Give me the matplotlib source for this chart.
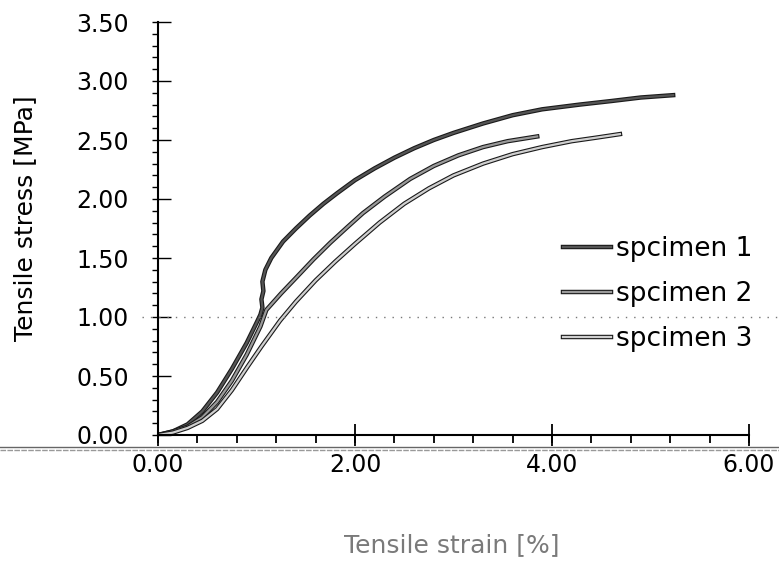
import matplotlib
matplotlib.use("Agg")
import matplotlib.pyplot as plt
import matplotlib.patheffects as pe
from matplotlib.lines import Line2D
from matplotlib.ticker import MultipleLocator, FixedLocator

# specimen curves (strain %, stress MPa)
x1 = [0.00, 0.15, 0.30, 0.45, 0.60, 0.75, 0.90, 1.00, 1.04, 1.06, 1.05, 1.07, 1.06, 1.09, 1.15,
      1.27, 1.40, 1.54, 1.68, 1.82, 2.00, 2.20, 2.40, 2.60, 2.80, 3.00, 3.30, 3.60, 3.90, 4.28,
      4.60, 4.90, 5.23]
y1 = [0.00, 0.03, 0.09, 0.20, 0.36, 0.56, 0.78, 0.95, 1.02, 1.08, 1.15, 1.22, 1.30, 1.40, 1.50,
      1.64, 1.75, 1.86, 1.96, 2.05, 2.16, 2.26, 2.35, 2.43, 2.50, 2.56, 2.64, 2.71, 2.76, 2.80,
      2.83, 2.86, 2.88]

x2 = [0.00, 0.15, 0.30, 0.45, 0.60, 0.75, 0.90, 1.04, 1.10, 1.25, 1.41, 1.58, 1.75, 1.92, 2.08,
      2.30, 2.56, 2.80, 3.05, 3.30, 3.55, 3.85]
y2 = [0.00, 0.03, 0.07, 0.15, 0.28, 0.46, 0.68, 0.92, 1.06, 1.20, 1.34, 1.49, 1.63, 1.76, 1.88,
      2.02, 2.17, 2.28, 2.37, 2.44, 2.49, 2.53]

x3 = [0.00, 0.15, 0.30, 0.45, 0.60, 0.75, 0.91, 1.05, 1.24, 1.40, 1.60, 1.80, 2.00, 2.25, 2.50,
      2.75, 3.00, 3.30, 3.60, 3.90, 4.20, 4.45, 4.69]
y3 = [0.00, 0.02, 0.06, 0.12, 0.22, 0.38, 0.58, 0.75, 0.97, 1.13, 1.31, 1.47, 1.62, 1.80, 1.96,
      2.09, 2.20, 2.30, 2.38, 2.44, 2.49, 2.52, 2.55]

labels = ["spcimen 1", "spcimen 2", "spcimen 3"]
x_ticks = [0.0, 2.0, 4.0, 6.0]
y_ticks = [0.0, 0.5, 1.0, 1.5, 2.0, 2.5, 3.0, 3.5]

W, H = 779, 565
fig = plt.figure(figsize=(W / 100, H / 100), dpi=100)
ax = fig.add_axes([158 / W, 1 - 435 / H, (749 - 158) / W, (435 - 22) / H])

outline = [pe.Stroke(linewidth=3.2, foreground="#1a1a1a"), pe.Normal()]
ax.plot(x1, y1, color="#555555", lw=1.6, path_effects=outline, label=labels[0])
ax.plot(x2, y2, color="#9a9a9a", lw=1.6, path_effects=outline, label=labels[1])
ax.plot(x3, y3, color="#cfcfcf", lw=1.6, path_effects=outline, label=labels[2])

ax.axhline(1.0, xmin=-0.027, xmax=1.06, clip_on=False, color="#777777",
           lw=1.0, linestyle=(0, (1, 5)))

ax.set_xlim(0, 6.0)
ax.set_ylim(0, 3.5)
for s in ["top", "right"]:
    ax.spines[s].set_visible(False)
for s in ["left", "bottom"]:
    ax.spines[s].set_linewidth(1.5)

ax.xaxis.set_major_locator(FixedLocator(x_ticks))
ax.xaxis.set_minor_locator(MultipleLocator(0.4))
ax.yaxis.set_major_locator(FixedLocator(y_ticks))
ax.yaxis.set_minor_locator(MultipleLocator(0.1))
ax.xaxis.remove_overlapping_locs = False
ax.yaxis.remove_overlapping_locs = False
ax.set_xticklabels([f"{v:.2f}" for v in x_ticks])
ax.set_yticklabels([f"{v:.2f}" for v in y_ticks])

ax.tick_params(axis="x", which="major", direction="inout", length=16, width=1.3,
               pad=5, labelsize=17)
ax.tick_params(axis="x", which="minor", direction="out", length=6, width=1.3)
ax.tick_params(axis="y", which="major", direction="in", length=9, width=1.0,
               pad=21, labelsize=17)
ax.tick_params(axis="y", which="minor", direction="out", length=4.5, width=1.0)

leg = ax.legend(loc="center left", bbox_to_anchor=(563 / W, 1 - 294 / H),
                bbox_transform=fig.transFigure, frameon=False, fontsize=19,
                handlelength=1.8, handletextpad=0.2, labelspacing=0.72,
                borderpad=0, borderaxespad=0)

fig.text(25 / W, 1 - 218 / H, "Tensile stress [MPa]", rotation=90,
         ha="center", va="center", fontsize=18)
fig.text(452 / W, 1 - 545 / H, "Tensile strain [%]", ha="center", va="center",
         fontsize=18, color="#7a7a7a")

# scanned page rule under the axis
fig.add_artist(Line2D([0, 1], [1 - 447 / H, 1 - 447 / H], transform=fig.transFigure,
                      color="#666666", lw=1.0))
fig.add_artist(Line2D([0, 1], [1 - 450 / H, 1 - 450 / H], transform=fig.transFigure,
                      color="#999999", lw=1.0, linestyle=(0, (4, 1))))

fig.savefig("out.png", dpi=100)
